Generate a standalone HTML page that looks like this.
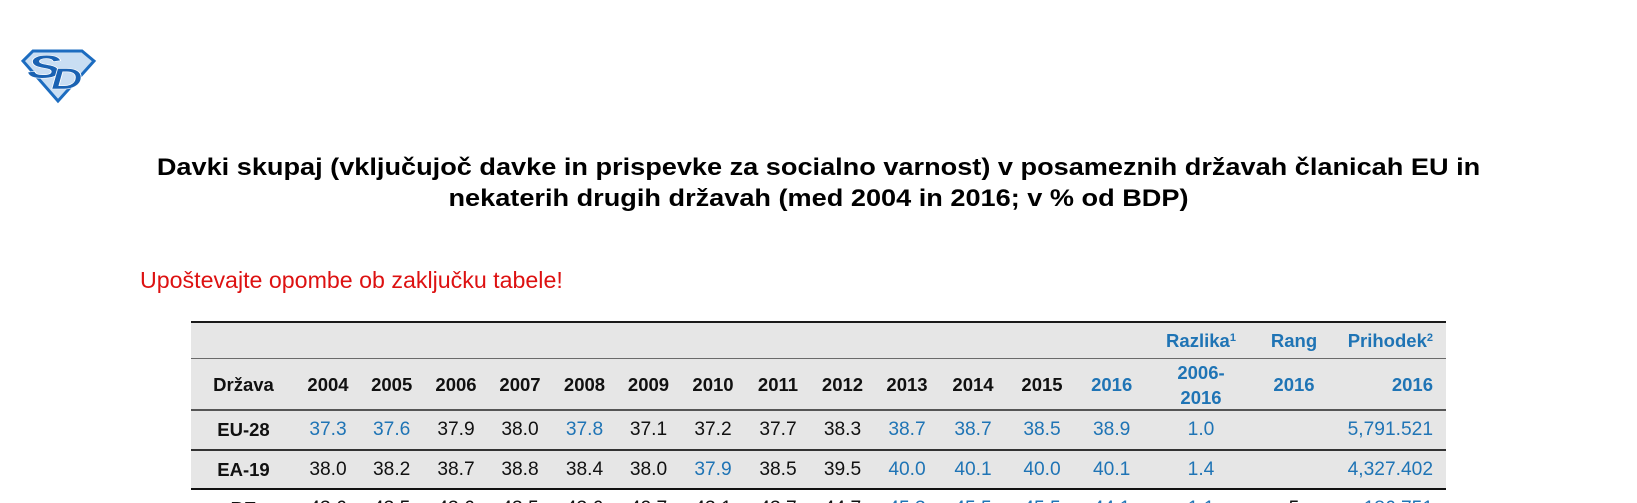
<!DOCTYPE html>
<html>
<head>
<meta charset="utf-8">
<style>
  html,body{margin:0;padding:0;background:#fff;overflow:hidden;width:1637px;height:503px;}
  #w{width:1637px;height:503px;position:relative;overflow:hidden;font-family:"Liberation Sans",Arial,sans-serif;background:#fff;}
  .abs{position:absolute;}
  .title{position:absolute;left:0;width:1637px;text-align:center;font-weight:bold;font-size:24px;line-height:31px;color:#000;white-space:nowrap;transform:scaleX(1.13);transform-origin:818.5px 50%;}
  .note{position:absolute;left:140px;top:269px;font-size:23.2px;line-height:23px;color:#dd1111;white-space:nowrap;}
  .row{position:absolute;left:191px;width:1255px;}
  .gray{background:#e6e6e6;}
  .c{position:absolute;top:0;height:100%;width:90px;display:flex;align-items:center;justify-content:center;text-align:center;font-size:19.2px;color:#111;white-space:nowrap;}
  .r{position:absolute;top:0;height:100%;width:140px;display:flex;align-items:center;justify-content:flex-end;text-align:right;font-size:19.2px;color:#111;white-space:nowrap;}
  .b{font-weight:bold;font-size:18.5px;}
  .bl{color:#1f74b5;}
  .line{position:absolute;left:191px;width:1255px;}
  sup{font-size:11px;line-height:0;position:relative;top:-3px;vertical-align:super;}
</style>
</head>
<body>
<div id="w">

<svg class="abs" style="left:0;top:0" width="120" height="120" viewBox="0 0 120 120">
  <polygon points="33,51 82,51 94,61 58,101 23,61" fill="#c9def3" stroke="#1c6cc0" stroke-width="3" stroke-linejoin="miter"/>
  <text transform="translate(27,78) scale(1.6,1)" x="0" y="0" font-family="Liberation Sans, sans-serif" font-size="32" font-weight="bold" font-style="italic" fill="#1a62b2" stroke="#ffffff" stroke-width="0.6">S</text>
  <text transform="translate(51,89) scale(1.45,1)" x="0" y="0" font-family="Liberation Sans, sans-serif" font-size="30" font-weight="bold" font-style="italic" fill="#1a62b2" stroke="#ffffff" stroke-width="0.6">D</text>
</svg>

<div class="title" style="top:152px;">Davki skupaj (vključujoč davke in prispevke za socialno varnost) v posameznih državah članicah EU in</div>
<div class="title" style="top:183px;">nekaterih drugih državah (med 2004 in 2016; v % od BDP)</div>

<div class="note">Upoštevajte opombe ob zaključku tabele!</div>

<!-- Header row 1 -->
<div class="row gray" style="top:322px;height:37px;">
  <div class="c b bl" style="left:965px;width:90px;">Razlika<sup>1</sup></div>
  <div class="c b bl" style="left:1058px;">Rang</div>
  <div class="r b bl" style="left:1102px;">Prihodek<sup>2</sup></div>
</div>

<!-- Header row 2 -->
<div class="row gray" style="top:359px;height:51px;">
  <div class="c b" style="left:7.5px;">Država</div>
  <div class="c b" style="left:92px;">2004</div>
  <div class="c b" style="left:155.7px;">2005</div>
  <div class="c b" style="left:220px;">2006</div>
  <div class="c b" style="left:284px;">2007</div>
  <div class="c b" style="left:348.5px;">2008</div>
  <div class="c b" style="left:412.5px;">2009</div>
  <div class="c b" style="left:477px;">2010</div>
  <div class="c b" style="left:542px;">2011</div>
  <div class="c b" style="left:606.5px;">2012</div>
  <div class="c b" style="left:671px;">2013</div>
  <div class="c b" style="left:737px;">2014</div>
  <div class="c b" style="left:806px;">2015</div>
  <div class="c b bl" style="left:875.7px;">2016</div>
  <div class="c b bl" style="left:965px;line-height:25px;">2006-<br>2016</div>
  <div class="c b bl" style="left:1058px;">2016</div>
  <div class="r b bl" style="left:1102px;">2016</div>
</div>

<!-- EU-28 -->
<div class="row gray" style="top:410px;height:40px;">
  <div class="c b" style="left:7.5px;">EU-28</div>
  <div class="c bl" style="left:92px;">37.3</div>
  <div class="c bl" style="left:155.7px;">37.6</div>
  <div class="c" style="left:220px;">37.9</div>
  <div class="c" style="left:284px;">38.0</div>
  <div class="c bl" style="left:348.5px;">37.8</div>
  <div class="c" style="left:412.5px;">37.1</div>
  <div class="c" style="left:477px;">37.2</div>
  <div class="c" style="left:542px;">37.7</div>
  <div class="c" style="left:606.5px;">38.3</div>
  <div class="c bl" style="left:671px;">38.7</div>
  <div class="c bl" style="left:737px;">38.7</div>
  <div class="c bl" style="left:806px;">38.5</div>
  <div class="c bl" style="left:875.7px;">38.9</div>
  <div class="c bl" style="left:965px;">1.0</div>
  <div class="r bl" style="left:1102px;">5,791.521</div>
</div>

<!-- EA-19 -->
<div class="row gray" style="top:450px;height:39px;">
  <div class="c b" style="left:7.5px;">EA-19</div>
  <div class="c" style="left:92px;">38.0</div>
  <div class="c" style="left:155.7px;">38.2</div>
  <div class="c" style="left:220px;">38.7</div>
  <div class="c" style="left:284px;">38.8</div>
  <div class="c" style="left:348.5px;">38.4</div>
  <div class="c" style="left:412.5px;">38.0</div>
  <div class="c bl" style="left:477px;">37.9</div>
  <div class="c" style="left:542px;">38.5</div>
  <div class="c" style="left:606.5px;">39.5</div>
  <div class="c bl" style="left:671px;">40.0</div>
  <div class="c bl" style="left:737px;">40.1</div>
  <div class="c bl" style="left:806px;">40.0</div>
  <div class="c bl" style="left:875.7px;">40.1</div>
  <div class="c bl" style="left:965px;">1.4</div>
  <div class="r bl" style="left:1102px;">4,327.402</div>
</div>

<!-- BE (partially visible) -->
<div class="row" style="top:489px;height:39px;">
  <div class="c b" style="left:7.5px;">BE</div>
  <div class="c" style="left:92px;">43.6</div>
  <div class="c" style="left:155.7px;">43.5</div>
  <div class="c" style="left:220px;">43.6</div>
  <div class="c" style="left:284px;">43.5</div>
  <div class="c" style="left:348.5px;">43.6</div>
  <div class="c" style="left:412.5px;">42.7</div>
  <div class="c" style="left:477px;">43.1</div>
  <div class="c" style="left:542px;">43.7</div>
  <div class="c" style="left:606.5px;">44.7</div>
  <div class="c bl" style="left:671px;">45.3</div>
  <div class="c bl" style="left:737px;">45.5</div>
  <div class="c bl" style="left:806px;">45.5</div>
  <div class="c bl" style="left:875.7px;">44.1</div>
  <div class="c bl" style="left:965px;">1.1</div>
  <div class="c" style="left:1058px;">5</div>
  <div class="r bl" style="left:1102px;">186.751</div>
</div>

<!-- Lines -->
<div class="line" style="top:321px;height:2px;background:#1a1a1a;"></div>
<div class="line" style="top:358px;height:1px;background:#6a6a6a;"></div>
<div class="line" style="top:409px;height:2px;background:#555;"></div>
<div class="line" style="top:449px;height:2px;background:#333;"></div>
<div class="line" style="top:488px;height:2px;background:#111;"></div>

</div>
</body>
</html>
